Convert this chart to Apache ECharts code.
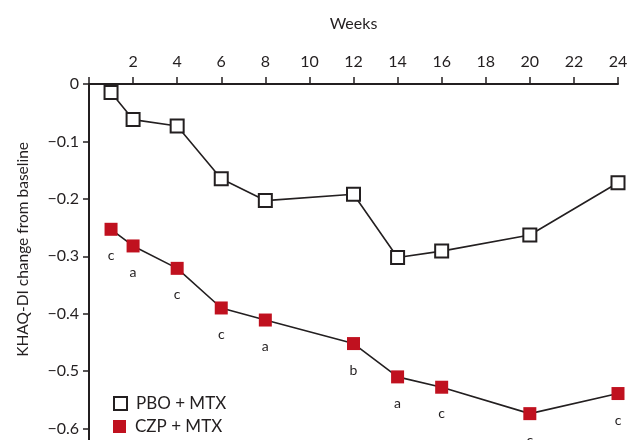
<!DOCTYPE html>
<html>
<head>
<meta charset="utf-8">
<script src="https://cdn.jsdelivr.net/npm/echarts@6/dist/echarts.min.js"></script>
<style>html,body{margin:0;padding:0;background:#fff;}#c{width:636px;height:440px;}</style>
</head>
<body>
<div id="c"></div>
<script>
var weeks = [1, 2, 4, 6, 8, 12, 14, 16, 20, 24];
var pboValues = [-0.015, -0.062, -0.073, -0.165, -0.203, -0.192, -0.302, -0.291, -0.263, -0.172];
var czpValues = [-0.253, -0.282, -0.321, -0.390, -0.411, -0.452, -0.510, -0.528, -0.574, -0.539];
var czpLetters = ['c', 'a', 'c', 'c', 'a', 'b', 'a', 'c', 'c', 'c'];
var seriesNames = ['PBO + MTX', 'CZP + MTX'];
var xTitle = 'Weeks';
var yTitle = 'KHAQ-DI change from baseline';

var FONT = 'Lato';
var TXT = '#231f20';
function pairs(vals){ return weeks.map(function(w,i){ return [w, vals[i]]; }); }
function fmtY(v){
  if (Math.abs(v) < 1e-9) return '0';
  return (v < 0 ? '\u2212' : '') + Math.abs(v).toFixed(1);
}
function legendFor(name, top){
  return {
    orient: 'vertical', left: 113, top: top, padding: 0,
    itemWidth: 13, itemHeight: 13, icon: 'rect',
    textStyle: {fontFamily: FONT, fontSize: 17, color: TXT, padding: [0,0,0,4]},
    data: [name]
  };
}

var chart = echarts.init(document.getElementById('c'), null, {renderer: 'canvas'});
chart.setOption({
  animation: false,
  backgroundColor: '#fff',
  textStyle: {fontFamily: FONT, color: TXT},
  grid: {left: 89, top: 84, width: 529, height: 402, containLabel: false, outerBoundsMode: 'none'},
  xAxis: {
    type: 'value', position: 'top', min: 0, max: 24, interval: 2,
    name: xTitle, nameLocation: 'middle', nameGap: 52,
    nameTextStyle: {fontFamily: FONT, fontSize: 16, color: TXT},
    axisLine: {show: true, onZero: false, lineStyle: {color: TXT, width: 2}},
    axisTick: {show: true, inside: false, length: 7, lineStyle: {color: TXT, width: 1.5}},
    axisLabel: {fontFamily: FONT, fontSize: 16, color: TXT, margin: 14,
      formatter: function(v){ return v === 0 ? '' : String(v); }},
    splitLine: {show: false}
  },
  yAxis: {
    type: 'value', min: -0.7, max: 0, interval: 0.1,
    axisLine: {show: true, onZero: false, lineStyle: {color: TXT, width: 2}},
    axisTick: {show: true, length: 6, lineStyle: {color: TXT, width: 1.5}},
    axisLabel: {fontFamily: FONT, fontSize: 16, color: TXT, margin: 10, formatter: fmtY},
    splitLine: {show: false}
  },
  legend: [legendFor(seriesNames[0], 395), legendFor(seriesNames[1], 418)],
  graphic: [{
    type: 'text', left: 15, top: 142, rotation: Math.PI/2,
    style: {text: yTitle, font: '15.5px ' + FONT, fill: TXT}
  }],
  series: [
    {
      name: seriesNames[0], type: 'line', data: pairs(pboValues),
      symbol: 'rect', symbolSize: 13,
      lineStyle: {color: TXT, width: 1.6},
      itemStyle: {color: '#fff', borderColor: TXT, borderWidth: 2},
      z: 3
    },
    {
      name: seriesNames[1], type: 'line', data: pairs(czpValues),
      symbol: 'rect', symbolSize: 13,
      lineStyle: {color: TXT, width: 1.6},
      itemStyle: {color: '#c0111f', borderWidth: 0},
      label: {show: true, position: 'bottom', distance: 13,
        fontFamily: FONT, fontSize: 14, color: TXT,
        formatter: function(p){ return czpLetters[p.dataIndex]; }},
      z: 3
    }
  ]
});
</script>
</body>
</html>
